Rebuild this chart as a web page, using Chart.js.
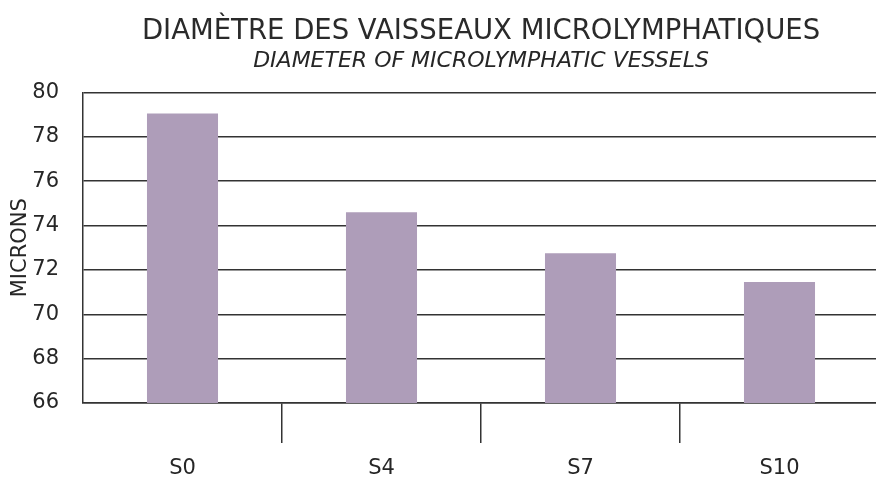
<!DOCTYPE html>
<html lang="fr">
  <head>
    <meta charset="UTF-8" />
    <title>Diamètre des vaisseaux microlymphatiques</title>
    <script src="https://cdn.jsdelivr.net/npm/chart.js"></script>
    <style>
      body {
        margin: 0;
        overflow: hidden;
        background: #fff;
      }
      #barChart {
        display: block;
      }
    </style>
  </head>
  <body>
    <canvas id="barChart" width="880" height="480"></canvas>

    <script>
      const categories = ["S0", "S4", "S7", "S10"];
      const diameters = [79.05, 74.6, 72.75, 71.45];
      const yMin = 66;
      const yMax = 80;
      const yStep = 2;

      const textColor = "#262626";
      const lineColor = "#333";
      const fontName = "'DejaVu Sans', sans-serif";

      new Chart(document.getElementById("barChart"), {
        type: "bar",
        data: {
          labels: categories,
          datasets: [{
            label: "Microns",
            data: diameters,
            backgroundColor: "#ae9db9",
            barPercentage: 0.357,
            categoryPercentage: 1
          }]
        },
        options: {
          responsive: false,
          animation: false,
          layout: {
            padding: { left: 7, right: 1, top: 15, bottom: 0 }
          },
          plugins: {
            legend: { display: false },
            tooltip: { enabled: false },
            title: {
              display: true,
              fullSize: false,
              text: "DIAMÈTRE DES VAISSEAUX MICROLYMPHATIQUES",
              color: "#2a2a2a",
              font: { family: fontName, size: 27.5, weight: "normal" },
              padding: { top: 0, bottom: 0 }
            },
            subtitle: {
              display: true,
              fullSize: false,
              text: "DIAMETER OF MICROLYMPHATIC VESSELS",
              color: textColor,
              font: { family: fontName, size: 22, style: "italic" },
              padding: { top: 0, bottom: 18 }
            }
          },
          scales: {
            x: {
              afterFit: (scale) => {
                // fixed band under the plot, and no side padding so the plot reaches the right edge
                scale.height = 77;
                scale.paddingLeft = 0;
                scale.paddingRight = 0;
              },
              grid: {
                offset: true,
                drawOnChartArea: false,
                tickLength: 40,
                lineWidth: 1.5,
                color: (ctx) => (ctx.index >= 1 && ctx.index <= 3 ? lineColor : "rgba(0,0,0,0)")
              },
              border: { display: true, color: lineColor, width: 1.5 },
              ticks: {
                color: textColor,
                font: { family: fontName, size: 21 },
                padding: 13
              }
            },
            y: {
              min: yMin,
              max: yMax,
              afterFit: (scale) => { scale.width = 76; },
              grid: {
                drawTicks: false,
                color: lineColor,
                lineWidth: 1.5
              },
              border: { display: true, color: lineColor, width: 1.5 },
              ticks: {
                stepSize: yStep,
                color: textColor,
                font: { family: fontName, size: 21 },
                padding: 24
              },
              title: {
                display: true,
                text: "MICRONS",
                color: textColor,
                font: { family: fontName, size: 21 },
                padding: { top: 1, bottom: 0 }
              }
            }
          }
        }
      });
    </script>
  </body>
</html>
